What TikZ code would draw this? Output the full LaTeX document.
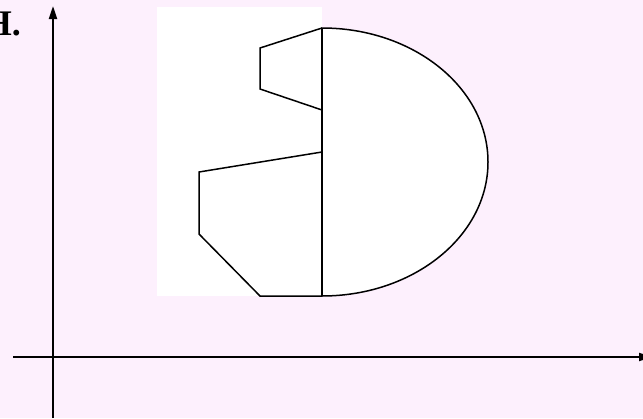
\documentclass[tikz,border=0pt]{standalone}
\usepackage{fontspec}
\setmainfont{Liberation Serif}
\usetikzlibrary{arrows.meta}
\definecolor{bgpink}{RGB}{253,240,253}
\tikzset{
  axisline/.style={line width=2pt,-{Triangle[length=13pt,width=8pt]}},
  outline/.style={line width=1.5pt,line join=miter},
}
\begin{document}
\begin{tikzpicture}[x=1pt,y=-1pt]
\fill[bgpink] (0,0) rectangle (643,418);
\useasboundingbox (0,0) rectangle (643,418);
\fill[white] (157,7) rectangle (322,296);
% label
\node[anchor=base east,inner sep=0pt,font=\bfseries\fontsize{36}{40}\selectfont] (lbl) at (21,35) {H.};
% axes
\coordinate (yb) at (53,418);
\coordinate (yt) at (53,6);
\coordinate (xl) at (13,357);
\coordinate (xr) at (652,357);
\draw[axisline] (yb) -- (yt);
\draw[axisline] (xl) -- (xr);
% shape
\coordinate (top) at (322,28);
\coordinate (bot) at (322,296);
\coordinate (a1) at (260,48);
\coordinate (a2) at (260,89);
\coordinate (a3) at (322,110);
\coordinate (b1) at (322,152);
\coordinate (b2) at (199,172);
\coordinate (b3) at (199,234);
\coordinate (b4) at (260,296);
\draw[outline,fill=white] (top) arc[start angle=-90,end angle=90,x radius=166,y radius=134] -- cycle;
\draw[outline] (top) -- (bot);
\draw[outline] (top) -- (a1) -- (a2) -- (a3);
\draw[outline] (b1) -- (b2) -- (b3) -- (b4) -- (bot);
\end{tikzpicture}
\end{document}
